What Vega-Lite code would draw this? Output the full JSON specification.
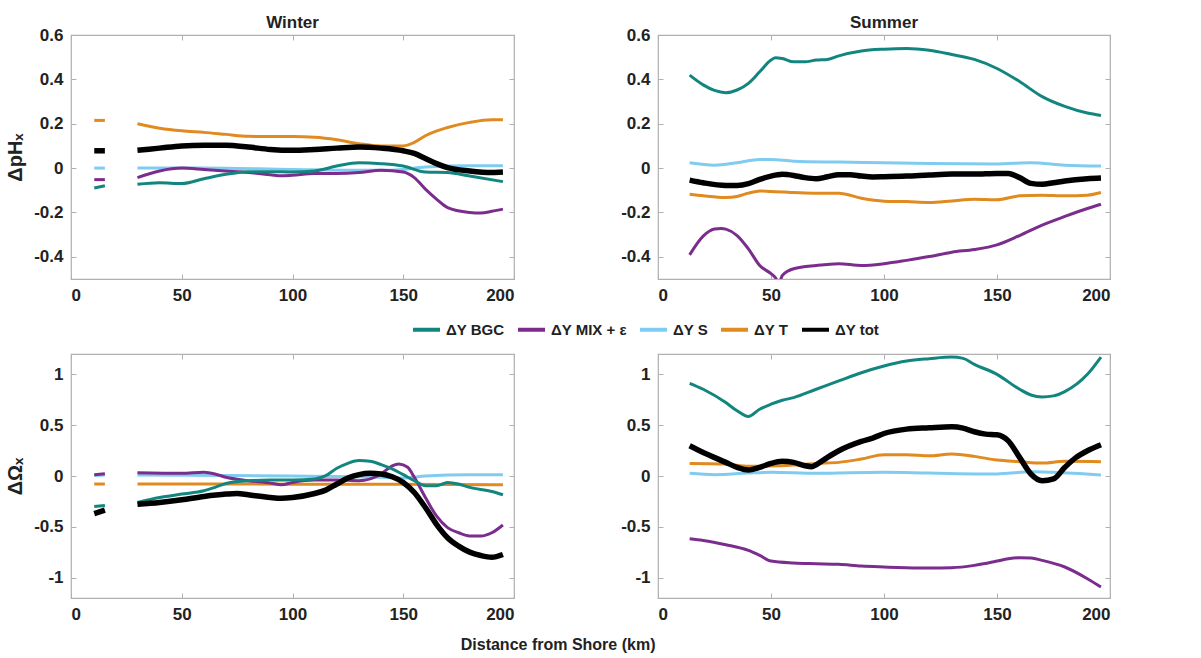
{
  "$schema": "https://vega.github.io/schema/vega-lite/v6.json",
  "padding": {"left": 5, "top": 13, "right": 5, "bottom": 5},
  "background": "white",
  "config": {
    "font": "Liberation Sans",
    "view": {"stroke": "#b0b0b0", "strokeWidth": 1.2},
    "axis": {
      "labelFont": "Liberation Sans", "labelFontWeight": "bold", "labelFontSize": 17, "labelColor": "#222",
      "titleFont": "Liberation Sans", "titleFontWeight": "bold", "titleFontSize": 20, "titleColor": "#222",
      "domain": false, "grid": false, "tickColor": "#b0b0b0", "tickSize": 5, "tickWidth": 1
    },
    "title": {"font": "Liberation Sans", "fontWeight": "bold", "fontSize": 17, "color": "#222", "offset": -6},
    "legend": {"labelFont": "Liberation Sans", "labelFontWeight": "bold", "labelFontSize": 15, "labelColor": "#222"}
  },
  "title": {"text": "Distance from Shore (km)", "orient": "bottom", "anchor": "middle", "fontSize": 16, "offset": 14},
  "datasets": {
    "d": [
      {"p":"WpH","s":"ΔY T","g":0,"x":10.5,"y":0.215},{"p":"WpH","s":"ΔY T","g":0,"x":15.3,"y":0.215},
      {"p":"WpH","s":"ΔY tot","g":0,"x":10.5,"y":0.078},{"p":"WpH","s":"ΔY tot","g":0,"x":15.3,"y":0.078},
      {"p":"WpH","s":"ΔY S","g":0,"x":10.5,"y":0.0},{"p":"WpH","s":"ΔY S","g":0,"x":15.3,"y":0.0},
      {"p":"WpH","s":"ΔY MIX + ε","g":0,"x":10.5,"y":-0.052},{"p":"WpH","s":"ΔY MIX + ε","g":0,"x":15.3,"y":-0.052},
      {"p":"WpH","s":"ΔY BGC","g":0,"x":10.5,"y":-0.09},{"p":"WpH","s":"ΔY BGC","g":0,"x":15.3,"y":-0.08},

      {"p":"WpH","s":"ΔY T","g":1,"x":30,"y":0.2},{"p":"WpH","s":"ΔY T","g":1,"x":40,"y":0.18},{"p":"WpH","s":"ΔY T","g":1,"x":50,"y":0.168},{"p":"WpH","s":"ΔY T","g":1,"x":60,"y":0.161},{"p":"WpH","s":"ΔY T","g":1,"x":70,"y":0.152},{"p":"WpH","s":"ΔY T","g":1,"x":80,"y":0.143},{"p":"WpH","s":"ΔY T","g":1,"x":90,"y":0.142},{"p":"WpH","s":"ΔY T","g":1,"x":100,"y":0.142},{"p":"WpH","s":"ΔY T","g":1,"x":110,"y":0.139},{"p":"WpH","s":"ΔY T","g":1,"x":120,"y":0.128},{"p":"WpH","s":"ΔY T","g":1,"x":130,"y":0.11},{"p":"WpH","s":"ΔY T","g":1,"x":140,"y":0.1},{"p":"WpH","s":"ΔY T","g":1,"x":150,"y":0.1},{"p":"WpH","s":"ΔY T","g":1,"x":155,"y":0.116},{"p":"WpH","s":"ΔY T","g":1,"x":160,"y":0.146},{"p":"WpH","s":"ΔY T","g":1,"x":170,"y":0.183},{"p":"WpH","s":"ΔY T","g":1,"x":180,"y":0.206},{"p":"WpH","s":"ΔY T","g":1,"x":190,"y":0.218},{"p":"WpH","s":"ΔY T","g":1,"x":195,"y":0.218},

      {"p":"WpH","s":"ΔY tot","g":1,"x":30,"y":0.08},{"p":"WpH","s":"ΔY tot","g":1,"x":40,"y":0.09},{"p":"WpH","s":"ΔY tot","g":1,"x":50,"y":0.1},{"p":"WpH","s":"ΔY tot","g":1,"x":60,"y":0.103},{"p":"WpH","s":"ΔY tot","g":1,"x":70,"y":0.103},{"p":"WpH","s":"ΔY tot","g":1,"x":80,"y":0.095},{"p":"WpH","s":"ΔY tot","g":1,"x":90,"y":0.084},{"p":"WpH","s":"ΔY tot","g":1,"x":100,"y":0.08},{"p":"WpH","s":"ΔY tot","g":1,"x":110,"y":0.084},{"p":"WpH","s":"ΔY tot","g":1,"x":120,"y":0.09},{"p":"WpH","s":"ΔY tot","g":1,"x":130,"y":0.095},{"p":"WpH","s":"ΔY tot","g":1,"x":140,"y":0.09},{"p":"WpH","s":"ΔY tot","g":1,"x":150,"y":0.078},{"p":"WpH","s":"ΔY tot","g":1,"x":155,"y":0.066},{"p":"WpH","s":"ΔY tot","g":1,"x":160,"y":0.043},{"p":"WpH","s":"ΔY tot","g":1,"x":165,"y":0.02},{"p":"WpH","s":"ΔY tot","g":1,"x":170,"y":0.002},{"p":"WpH","s":"ΔY tot","g":1,"x":180,"y":-0.013},{"p":"WpH","s":"ΔY tot","g":1,"x":190,"y":-0.02},{"p":"WpH","s":"ΔY tot","g":1,"x":195,"y":-0.018},

      {"p":"WpH","s":"ΔY S","g":1,"x":30,"y":0.0},{"p":"WpH","s":"ΔY S","g":1,"x":60,"y":0.0},{"p":"WpH","s":"ΔY S","g":1,"x":100,"y":-0.006},{"p":"WpH","s":"ΔY S","g":1,"x":140,"y":-0.01},{"p":"WpH","s":"ΔY S","g":1,"x":150,"y":-0.006},{"p":"WpH","s":"ΔY S","g":1,"x":160,"y":0.005},{"p":"WpH","s":"ΔY S","g":1,"x":180,"y":0.01},{"p":"WpH","s":"ΔY S","g":1,"x":195,"y":0.01},

      {"p":"WpH","s":"ΔY MIX + ε","g":1,"x":30,"y":-0.043},{"p":"WpH","s":"ΔY MIX + ε","g":1,"x":40,"y":-0.013},{"p":"WpH","s":"ΔY MIX + ε","g":1,"x":50,"y":0.0},{"p":"WpH","s":"ΔY MIX + ε","g":1,"x":60,"y":-0.006},{"p":"WpH","s":"ΔY MIX + ε","g":1,"x":70,"y":-0.013},{"p":"WpH","s":"ΔY MIX + ε","g":1,"x":80,"y":-0.02},{"p":"WpH","s":"ΔY MIX + ε","g":1,"x":90,"y":-0.03},{"p":"WpH","s":"ΔY MIX + ε","g":1,"x":95,"y":-0.035},{"p":"WpH","s":"ΔY MIX + ε","g":1,"x":100,"y":-0.032},{"p":"WpH","s":"ΔY MIX + ε","g":1,"x":110,"y":-0.024},{"p":"WpH","s":"ΔY MIX + ε","g":1,"x":120,"y":-0.024},{"p":"WpH","s":"ΔY MIX + ε","g":1,"x":130,"y":-0.02},{"p":"WpH","s":"ΔY MIX + ε","g":1,"x":140,"y":-0.01},{"p":"WpH","s":"ΔY MIX + ε","g":1,"x":150,"y":-0.018},{"p":"WpH","s":"ΔY MIX + ε","g":1,"x":155,"y":-0.043},{"p":"WpH","s":"ΔY MIX + ε","g":1,"x":160,"y":-0.095},{"p":"WpH","s":"ΔY MIX + ε","g":1,"x":165,"y":-0.14},{"p":"WpH","s":"ΔY MIX + ε","g":1,"x":170,"y":-0.178},{"p":"WpH","s":"ΔY MIX + ε","g":1,"x":180,"y":-0.2},{"p":"WpH","s":"ΔY MIX + ε","g":1,"x":185,"y":-0.203},{"p":"WpH","s":"ΔY MIX + ε","g":1,"x":190,"y":-0.195},{"p":"WpH","s":"ΔY MIX + ε","g":1,"x":195,"y":-0.185},

      {"p":"WpH","s":"ΔY BGC","g":1,"x":30,"y":-0.073},{"p":"WpH","s":"ΔY BGC","g":1,"x":40,"y":-0.066},{"p":"WpH","s":"ΔY BGC","g":1,"x":50,"y":-0.07},{"p":"WpH","s":"ΔY BGC","g":1,"x":60,"y":-0.048},{"p":"WpH","s":"ΔY BGC","g":1,"x":70,"y":-0.028},{"p":"WpH","s":"ΔY BGC","g":1,"x":80,"y":-0.016},{"p":"WpH","s":"ΔY BGC","g":1,"x":90,"y":-0.016},{"p":"WpH","s":"ΔY BGC","g":1,"x":100,"y":-0.018},{"p":"WpH","s":"ΔY BGC","g":1,"x":110,"y":-0.013},{"p":"WpH","s":"ΔY BGC","g":1,"x":120,"y":0.009},{"p":"WpH","s":"ΔY BGC","g":1,"x":130,"y":0.024},{"p":"WpH","s":"ΔY BGC","g":1,"x":140,"y":0.02},{"p":"WpH","s":"ΔY BGC","g":1,"x":150,"y":0.009},{"p":"WpH","s":"ΔY BGC","g":1,"x":160,"y":-0.018},{"p":"WpH","s":"ΔY BGC","g":1,"x":170,"y":-0.02},{"p":"WpH","s":"ΔY BGC","g":1,"x":180,"y":-0.036},{"p":"WpH","s":"ΔY BGC","g":1,"x":195,"y":-0.061},

      {"p":"SpH","s":"ΔY BGC","g":1,"x":14,"y":0.419},{"p":"SpH","s":"ΔY BGC","g":1,"x":20,"y":0.375},{"p":"SpH","s":"ΔY BGC","g":1,"x":25,"y":0.35},{"p":"SpH","s":"ΔY BGC","g":1,"x":30,"y":0.34},{"p":"SpH","s":"ΔY BGC","g":1,"x":35,"y":0.352},{"p":"SpH","s":"ΔY BGC","g":1,"x":40,"y":0.382},{"p":"SpH","s":"ΔY BGC","g":1,"x":45,"y":0.434},{"p":"SpH","s":"ΔY BGC","g":1,"x":50,"y":0.487},{"p":"SpH","s":"ΔY BGC","g":1,"x":52,"y":0.498},{"p":"SpH","s":"ΔY BGC","g":1,"x":55,"y":0.494},{"p":"SpH","s":"ΔY BGC","g":1,"x":60,"y":0.479},{"p":"SpH","s":"ΔY BGC","g":1,"x":65,"y":0.479},{"p":"SpH","s":"ΔY BGC","g":1,"x":70,"y":0.487},{"p":"SpH","s":"ΔY BGC","g":1,"x":75,"y":0.49},{"p":"SpH","s":"ΔY BGC","g":1,"x":80,"y":0.506},{"p":"SpH","s":"ΔY BGC","g":1,"x":90,"y":0.528},{"p":"SpH","s":"ΔY BGC","g":1,"x":100,"y":0.536},{"p":"SpH","s":"ΔY BGC","g":1,"x":110,"y":0.539},{"p":"SpH","s":"ΔY BGC","g":1,"x":120,"y":0.531},{"p":"SpH","s":"ΔY BGC","g":1,"x":130,"y":0.512},{"p":"SpH","s":"ΔY BGC","g":1,"x":140,"y":0.49},{"p":"SpH","s":"ΔY BGC","g":1,"x":150,"y":0.449},{"p":"SpH","s":"ΔY BGC","g":1,"x":160,"y":0.39},{"p":"SpH","s":"ΔY BGC","g":1,"x":170,"y":0.322},{"p":"SpH","s":"ΔY BGC","g":1,"x":180,"y":0.278},{"p":"SpH","s":"ΔY BGC","g":1,"x":190,"y":0.248},{"p":"SpH","s":"ΔY BGC","g":1,"x":196,"y":0.237},

      {"p":"SpH","s":"ΔY S","g":1,"x":14,"y":0.024},{"p":"SpH","s":"ΔY S","g":1,"x":25,"y":0.013},{"p":"SpH","s":"ΔY S","g":1,"x":35,"y":0.024},{"p":"SpH","s":"ΔY S","g":1,"x":45,"y":0.039},{"p":"SpH","s":"ΔY S","g":1,"x":50,"y":0.039},{"p":"SpH","s":"ΔY S","g":1,"x":60,"y":0.031},{"p":"SpH","s":"ΔY S","g":1,"x":80,"y":0.027},{"p":"SpH","s":"ΔY S","g":1,"x":100,"y":0.024},{"p":"SpH","s":"ΔY S","g":1,"x":120,"y":0.021},{"p":"SpH","s":"ΔY S","g":1,"x":150,"y":0.019},{"p":"SpH","s":"ΔY S","g":1,"x":165,"y":0.024},{"p":"SpH","s":"ΔY S","g":1,"x":180,"y":0.013},{"p":"SpH","s":"ΔY S","g":1,"x":196,"y":0.009},

      {"p":"SpH","s":"ΔY tot","g":1,"x":14,"y":-0.054},{"p":"SpH","s":"ΔY tot","g":1,"x":20,"y":-0.066},{"p":"SpH","s":"ΔY tot","g":1,"x":30,"y":-0.078},{"p":"SpH","s":"ΔY tot","g":1,"x":35,"y":-0.078},{"p":"SpH","s":"ΔY tot","g":1,"x":40,"y":-0.07},{"p":"SpH","s":"ΔY tot","g":1,"x":45,"y":-0.051},{"p":"SpH","s":"ΔY tot","g":1,"x":50,"y":-0.036},{"p":"SpH","s":"ΔY tot","g":1,"x":55,"y":-0.028},{"p":"SpH","s":"ΔY tot","g":1,"x":60,"y":-0.033},{"p":"SpH","s":"ΔY tot","g":1,"x":65,"y":-0.043},{"p":"SpH","s":"ΔY tot","g":1,"x":70,"y":-0.048},{"p":"SpH","s":"ΔY tot","g":1,"x":75,"y":-0.039},{"p":"SpH","s":"ΔY tot","g":1,"x":80,"y":-0.03},{"p":"SpH","s":"ΔY tot","g":1,"x":85,"y":-0.03},{"p":"SpH","s":"ΔY tot","g":1,"x":90,"y":-0.036},{"p":"SpH","s":"ΔY tot","g":1,"x":95,"y":-0.04},{"p":"SpH","s":"ΔY tot","g":1,"x":100,"y":-0.039},{"p":"SpH","s":"ΔY tot","g":1,"x":110,"y":-0.036},{"p":"SpH","s":"ΔY tot","g":1,"x":120,"y":-0.031},{"p":"SpH","s":"ΔY tot","g":1,"x":130,"y":-0.027},{"p":"SpH","s":"ΔY tot","g":1,"x":140,"y":-0.027},{"p":"SpH","s":"ΔY tot","g":1,"x":150,"y":-0.024},{"p":"SpH","s":"ΔY tot","g":1,"x":155,"y":-0.024},{"p":"SpH","s":"ΔY tot","g":1,"x":160,"y":-0.043},{"p":"SpH","s":"ΔY tot","g":1,"x":165,"y":-0.069},{"p":"SpH","s":"ΔY tot","g":1,"x":170,"y":-0.073},{"p":"SpH","s":"ΔY tot","g":1,"x":175,"y":-0.066},{"p":"SpH","s":"ΔY tot","g":1,"x":180,"y":-0.058},{"p":"SpH","s":"ΔY tot","g":1,"x":190,"y":-0.048},{"p":"SpH","s":"ΔY tot","g":1,"x":196,"y":-0.045},

      {"p":"SpH","s":"ΔY T","g":1,"x":14,"y":-0.118},{"p":"SpH","s":"ΔY T","g":1,"x":20,"y":-0.125},{"p":"SpH","s":"ΔY T","g":1,"x":30,"y":-0.133},{"p":"SpH","s":"ΔY T","g":1,"x":35,"y":-0.128},{"p":"SpH","s":"ΔY T","g":1,"x":40,"y":-0.113},{"p":"SpH","s":"ΔY T","g":1,"x":45,"y":-0.103},{"p":"SpH","s":"ΔY T","g":1,"x":50,"y":-0.106},{"p":"SpH","s":"ΔY T","g":1,"x":60,"y":-0.11},{"p":"SpH","s":"ΔY T","g":1,"x":70,"y":-0.113},{"p":"SpH","s":"ΔY T","g":1,"x":80,"y":-0.113},{"p":"SpH","s":"ΔY T","g":1,"x":90,"y":-0.136},{"p":"SpH","s":"ΔY T","g":1,"x":100,"y":-0.149},{"p":"SpH","s":"ΔY T","g":1,"x":110,"y":-0.151},{"p":"SpH","s":"ΔY T","g":1,"x":120,"y":-0.155},{"p":"SpH","s":"ΔY T","g":1,"x":130,"y":-0.148},{"p":"SpH","s":"ΔY T","g":1,"x":140,"y":-0.14},{"p":"SpH","s":"ΔY T","g":1,"x":150,"y":-0.143},{"p":"SpH","s":"ΔY T","g":1,"x":160,"y":-0.125},{"p":"SpH","s":"ΔY T","g":1,"x":170,"y":-0.122},{"p":"SpH","s":"ΔY T","g":1,"x":180,"y":-0.125},{"p":"SpH","s":"ΔY T","g":1,"x":190,"y":-0.122},{"p":"SpH","s":"ΔY T","g":1,"x":196,"y":-0.11},

      {"p":"SpH","s":"ΔY MIX + ε","g":1,"x":14,"y":-0.391},{"p":"SpH","s":"ΔY MIX + ε","g":1,"x":20,"y":-0.307},{"p":"SpH","s":"ΔY MIX + ε","g":1,"x":25,"y":-0.275},{"p":"SpH","s":"ΔY MIX + ε","g":1,"x":28,"y":-0.272},{"p":"SpH","s":"ΔY MIX + ε","g":1,"x":30,"y":-0.275},{"p":"SpH","s":"ΔY MIX + ε","g":1,"x":35,"y":-0.304},{"p":"SpH","s":"ΔY MIX + ε","g":1,"x":40,"y":-0.364},{"p":"SpH","s":"ΔY MIX + ε","g":1,"x":45,"y":-0.439},{"p":"SpH","s":"ΔY MIX + ε","g":1,"x":50,"y":-0.476},{"p":"SpH","s":"ΔY MIX + ε","g":1,"x":52,"y":-0.495},{"p":"SpH","s":"ΔY MIX + ε","g":1,"x":53.5,"y":-0.52},{"p":"SpH","s":"ΔY MIX + ε","g":1,"x":55,"y":-0.484},{"p":"SpH","s":"ΔY MIX + ε","g":1,"x":60,"y":-0.454},{"p":"SpH","s":"ΔY MIX + ε","g":1,"x":70,"y":-0.439},{"p":"SpH","s":"ΔY MIX + ε","g":1,"x":80,"y":-0.431},{"p":"SpH","s":"ΔY MIX + ε","g":1,"x":90,"y":-0.439},{"p":"SpH","s":"ΔY MIX + ε","g":1,"x":100,"y":-0.431},{"p":"SpH","s":"ΔY MIX + ε","g":1,"x":110,"y":-0.416},{"p":"SpH","s":"ΔY MIX + ε","g":1,"x":120,"y":-0.399},{"p":"SpH","s":"ΔY MIX + ε","g":1,"x":130,"y":-0.379},{"p":"SpH","s":"ΔY MIX + ε","g":1,"x":140,"y":-0.367},{"p":"SpH","s":"ΔY MIX + ε","g":1,"x":150,"y":-0.346},{"p":"SpH","s":"ΔY MIX + ε","g":1,"x":160,"y":-0.304},{"p":"SpH","s":"ΔY MIX + ε","g":1,"x":170,"y":-0.257},{"p":"SpH","s":"ΔY MIX + ε","g":1,"x":180,"y":-0.218},{"p":"SpH","s":"ΔY MIX + ε","g":1,"x":190,"y":-0.182},{"p":"SpH","s":"ΔY MIX + ε","g":1,"x":196,"y":-0.163},

      {"p":"WOm","s":"ΔY S","g":0,"x":10.5,"y":0.005},{"p":"WOm","s":"ΔY S","g":0,"x":15.3,"y":0.01},
      {"p":"WOm","s":"ΔY MIX + ε","g":0,"x":10.5,"y":0.012},{"p":"WOm","s":"ΔY MIX + ε","g":0,"x":15.3,"y":0.022},
      {"p":"WOm","s":"ΔY T","g":0,"x":10.5,"y":-0.079},{"p":"WOm","s":"ΔY T","g":0,"x":15.3,"y":-0.079},
      {"p":"WOm","s":"ΔY BGC","g":0,"x":10.5,"y":-0.3},{"p":"WOm","s":"ΔY BGC","g":0,"x":15.3,"y":-0.29},
      {"p":"WOm","s":"ΔY tot","g":0,"x":10.5,"y":-0.37},{"p":"WOm","s":"ΔY tot","g":0,"x":15.3,"y":-0.335},

      {"p":"WOm","s":"ΔY S","g":1,"x":30,"y":0.01},{"p":"WOm","s":"ΔY S","g":1,"x":70,"y":0.005},{"p":"WOm","s":"ΔY S","g":1,"x":100,"y":0.0},{"p":"WOm","s":"ΔY S","g":1,"x":120,"y":-0.005},{"p":"WOm","s":"ΔY S","g":1,"x":140,"y":-0.013},{"p":"WOm","s":"ΔY S","g":1,"x":150,"y":-0.02},{"p":"WOm","s":"ΔY S","g":1,"x":160,"y":0.0},{"p":"WOm","s":"ΔY S","g":1,"x":180,"y":0.013},{"p":"WOm","s":"ΔY S","g":1,"x":195,"y":0.013},

      {"p":"WOm","s":"ΔY T","g":1,"x":30,"y":-0.079},{"p":"WOm","s":"ΔY T","g":1,"x":100,"y":-0.08},{"p":"WOm","s":"ΔY T","g":1,"x":150,"y":-0.082},{"p":"WOm","s":"ΔY T","g":1,"x":195,"y":-0.086},

      {"p":"WOm","s":"ΔY MIX + ε","g":1,"x":30,"y":0.033},{"p":"WOm","s":"ΔY MIX + ε","g":1,"x":50,"y":0.026},{"p":"WOm","s":"ΔY MIX + ε","g":1,"x":60,"y":0.036},{"p":"WOm","s":"ΔY MIX + ε","g":1,"x":65,"y":0.02},{"p":"WOm","s":"ΔY MIX + ε","g":1,"x":70,"y":-0.013},{"p":"WOm","s":"ΔY MIX + ε","g":1,"x":80,"y":-0.046},{"p":"WOm","s":"ΔY MIX + ε","g":1,"x":90,"y":-0.07},{"p":"WOm","s":"ΔY MIX + ε","g":1,"x":95,"y":-0.086},{"p":"WOm","s":"ΔY MIX + ε","g":1,"x":100,"y":-0.063},{"p":"WOm","s":"ΔY MIX + ε","g":1,"x":110,"y":-0.04},{"p":"WOm","s":"ΔY MIX + ε","g":1,"x":120,"y":-0.04},{"p":"WOm","s":"ΔY MIX + ε","g":1,"x":130,"y":-0.046},{"p":"WOm","s":"ΔY MIX + ε","g":1,"x":140,"y":0.02},{"p":"WOm","s":"ΔY MIX + ε","g":1,"x":145,"y":0.1},{"p":"WOm","s":"ΔY MIX + ε","g":1,"x":148,"y":0.119},{"p":"WOm","s":"ΔY MIX + ε","g":1,"x":152,"y":0.086},{"p":"WOm","s":"ΔY MIX + ε","g":1,"x":155,"y":-0.013},{"p":"WOm","s":"ΔY MIX + ε","g":1,"x":160,"y":-0.211},{"p":"WOm","s":"ΔY MIX + ε","g":1,"x":165,"y":-0.393},{"p":"WOm","s":"ΔY MIX + ε","g":1,"x":170,"y":-0.508},{"p":"WOm","s":"ΔY MIX + ε","g":1,"x":175,"y":-0.558},{"p":"WOm","s":"ΔY MIX + ε","g":1,"x":180,"y":-0.59},{"p":"WOm","s":"ΔY MIX + ε","g":1,"x":185,"y":-0.59},{"p":"WOm","s":"ΔY MIX + ε","g":1,"x":190,"y":-0.558},{"p":"WOm","s":"ΔY MIX + ε","g":1,"x":195,"y":-0.482},

      {"p":"WOm","s":"ΔY BGC","g":1,"x":30,"y":-0.26},{"p":"WOm","s":"ΔY BGC","g":1,"x":40,"y":-0.211},{"p":"WOm","s":"ΔY BGC","g":1,"x":50,"y":-0.178},{"p":"WOm","s":"ΔY BGC","g":1,"x":60,"y":-0.145},{"p":"WOm","s":"ΔY BGC","g":1,"x":65,"y":-0.112},{"p":"WOm","s":"ΔY BGC","g":1,"x":70,"y":-0.073},{"p":"WOm","s":"ΔY BGC","g":1,"x":80,"y":-0.046},{"p":"WOm","s":"ΔY BGC","g":1,"x":90,"y":-0.04},{"p":"WOm","s":"ΔY BGC","g":1,"x":100,"y":-0.04},{"p":"WOm","s":"ΔY BGC","g":1,"x":110,"y":-0.03},{"p":"WOm","s":"ΔY BGC","g":1,"x":115,"y":0.003},{"p":"WOm","s":"ΔY BGC","g":1,"x":120,"y":0.076},{"p":"WOm","s":"ΔY BGC","g":1,"x":125,"y":0.125},{"p":"WOm","s":"ΔY BGC","g":1,"x":130,"y":0.152},{"p":"WOm","s":"ΔY BGC","g":1,"x":135,"y":0.145},{"p":"WOm","s":"ΔY BGC","g":1,"x":140,"y":0.112},{"p":"WOm","s":"ΔY BGC","g":1,"x":145,"y":0.069},{"p":"WOm","s":"ΔY BGC","g":1,"x":150,"y":0.013},{"p":"WOm","s":"ΔY BGC","g":1,"x":155,"y":-0.046},{"p":"WOm","s":"ΔY BGC","g":1,"x":160,"y":-0.096},{"p":"WOm","s":"ΔY BGC","g":1,"x":165,"y":-0.096},{"p":"WOm","s":"ΔY BGC","g":1,"x":170,"y":-0.063},{"p":"WOm","s":"ΔY BGC","g":1,"x":175,"y":-0.079},{"p":"WOm","s":"ΔY BGC","g":1,"x":180,"y":-0.112},{"p":"WOm","s":"ΔY BGC","g":1,"x":190,"y":-0.152},{"p":"WOm","s":"ΔY BGC","g":1,"x":195,"y":-0.185},

      {"p":"WOm","s":"ΔY tot","g":1,"x":30,"y":-0.277},{"p":"WOm","s":"ΔY tot","g":1,"x":40,"y":-0.26},{"p":"WOm","s":"ΔY tot","g":1,"x":50,"y":-0.234},{"p":"WOm","s":"ΔY tot","g":1,"x":60,"y":-0.201},{"p":"WOm","s":"ΔY tot","g":1,"x":70,"y":-0.178},{"p":"WOm","s":"ΔY tot","g":1,"x":75,"y":-0.172},{"p":"WOm","s":"ΔY tot","g":1,"x":80,"y":-0.185},{"p":"WOm","s":"ΔY tot","g":1,"x":90,"y":-0.211},{"p":"WOm","s":"ΔY tot","g":1,"x":95,"y":-0.218},{"p":"WOm","s":"ΔY tot","g":1,"x":100,"y":-0.211},{"p":"WOm","s":"ΔY tot","g":1,"x":110,"y":-0.172},{"p":"WOm","s":"ΔY tot","g":1,"x":115,"y":-0.139},{"p":"WOm","s":"ΔY tot","g":1,"x":120,"y":-0.079},{"p":"WOm","s":"ΔY tot","g":1,"x":125,"y":-0.02},{"p":"WOm","s":"ΔY tot","g":1,"x":130,"y":0.013},{"p":"WOm","s":"ΔY tot","g":1,"x":135,"y":0.026},{"p":"WOm","s":"ΔY tot","g":1,"x":140,"y":0.02},{"p":"WOm","s":"ΔY tot","g":1,"x":145,"y":-0.007},{"p":"WOm","s":"ΔY tot","g":1,"x":150,"y":-0.063},{"p":"WOm","s":"ΔY tot","g":1,"x":155,"y":-0.162},{"p":"WOm","s":"ΔY tot","g":1,"x":160,"y":-0.31},{"p":"WOm","s":"ΔY tot","g":1,"x":165,"y":-0.475},{"p":"WOm","s":"ΔY tot","g":1,"x":170,"y":-0.607},{"p":"WOm","s":"ΔY tot","g":1,"x":175,"y":-0.69},{"p":"WOm","s":"ΔY tot","g":1,"x":180,"y":-0.749},{"p":"WOm","s":"ΔY tot","g":1,"x":185,"y":-0.782},{"p":"WOm","s":"ΔY tot","g":1,"x":190,"y":-0.799},{"p":"WOm","s":"ΔY tot","g":1,"x":195,"y":-0.772},

      {"p":"SOm","s":"ΔY BGC","g":1,"x":14,"y":0.912},{"p":"SOm","s":"ΔY BGC","g":1,"x":20,"y":0.853},{"p":"SOm","s":"ΔY BGC","g":1,"x":30,"y":0.722},{"p":"SOm","s":"ΔY BGC","g":1,"x":35,"y":0.641},{"p":"SOm","s":"ΔY BGC","g":1,"x":40,"y":0.585},{"p":"SOm","s":"ΔY BGC","g":1,"x":45,"y":0.657},{"p":"SOm","s":"ΔY BGC","g":1,"x":50,"y":0.706},{"p":"SOm","s":"ΔY BGC","g":1,"x":55,"y":0.745},{"p":"SOm","s":"ΔY BGC","g":1,"x":60,"y":0.771},{"p":"SOm","s":"ΔY BGC","g":1,"x":70,"y":0.853},{"p":"SOm","s":"ΔY BGC","g":1,"x":80,"y":0.935},{"p":"SOm","s":"ΔY BGC","g":1,"x":90,"y":1.016},{"p":"SOm","s":"ΔY BGC","g":1,"x":100,"y":1.082},{"p":"SOm","s":"ΔY BGC","g":1,"x":110,"y":1.131},{"p":"SOm","s":"ΔY BGC","g":1,"x":120,"y":1.154},{"p":"SOm","s":"ΔY BGC","g":1,"x":130,"y":1.17},{"p":"SOm","s":"ΔY BGC","g":1,"x":135,"y":1.157},{"p":"SOm","s":"ΔY BGC","g":1,"x":140,"y":1.098},{"p":"SOm","s":"ΔY BGC","g":1,"x":150,"y":1.0},{"p":"SOm","s":"ΔY BGC","g":1,"x":160,"y":0.853},{"p":"SOm","s":"ΔY BGC","g":1,"x":165,"y":0.797},{"p":"SOm","s":"ΔY BGC","g":1,"x":170,"y":0.778},{"p":"SOm","s":"ΔY BGC","g":1,"x":175,"y":0.788},{"p":"SOm","s":"ΔY BGC","g":1,"x":180,"y":0.83},{"p":"SOm","s":"ΔY BGC","g":1,"x":190,"y":1.0},{"p":"SOm","s":"ΔY BGC","g":1,"x":196,"y":1.17},

      {"p":"SOm","s":"ΔY tot","g":1,"x":14,"y":0.297},{"p":"SOm","s":"ΔY tot","g":1,"x":20,"y":0.232},{"p":"SOm","s":"ΔY tot","g":1,"x":30,"y":0.134},{"p":"SOm","s":"ΔY tot","g":1,"x":35,"y":0.085},{"p":"SOm","s":"ΔY tot","g":1,"x":40,"y":0.059},{"p":"SOm","s":"ΔY tot","g":1,"x":45,"y":0.085},{"p":"SOm","s":"ΔY tot","g":1,"x":50,"y":0.124},{"p":"SOm","s":"ΔY tot","g":1,"x":55,"y":0.144},{"p":"SOm","s":"ΔY tot","g":1,"x":60,"y":0.134},{"p":"SOm","s":"ΔY tot","g":1,"x":65,"y":0.101},{"p":"SOm","s":"ΔY tot","g":1,"x":68,"y":0.092},{"p":"SOm","s":"ΔY tot","g":1,"x":70,"y":0.111},{"p":"SOm","s":"ΔY tot","g":1,"x":75,"y":0.183},{"p":"SOm","s":"ΔY tot","g":1,"x":80,"y":0.248},{"p":"SOm","s":"ΔY tot","g":1,"x":90,"y":0.34},{"p":"SOm","s":"ΔY tot","g":1,"x":95,"y":0.373},{"p":"SOm","s":"ΔY tot","g":1,"x":100,"y":0.418},{"p":"SOm","s":"ΔY tot","g":1,"x":110,"y":0.461},{"p":"SOm","s":"ΔY tot","g":1,"x":120,"y":0.474},{"p":"SOm","s":"ΔY tot","g":1,"x":130,"y":0.484},{"p":"SOm","s":"ΔY tot","g":1,"x":135,"y":0.471},{"p":"SOm","s":"ΔY tot","g":1,"x":140,"y":0.435},{"p":"SOm","s":"ΔY tot","g":1,"x":145,"y":0.412},{"p":"SOm","s":"ΔY tot","g":1,"x":150,"y":0.405},{"p":"SOm","s":"ΔY tot","g":1,"x":155,"y":0.346},{"p":"SOm","s":"ΔY tot","g":1,"x":160,"y":0.183},{"p":"SOm","s":"ΔY tot","g":1,"x":165,"y":0.02},{"p":"SOm","s":"ΔY tot","g":1,"x":170,"y":-0.046},{"p":"SOm","s":"ΔY tot","g":1,"x":175,"y":-0.029},{"p":"SOm","s":"ΔY tot","g":1,"x":180,"y":0.085},{"p":"SOm","s":"ΔY tot","g":1,"x":185,"y":0.183},{"p":"SOm","s":"ΔY tot","g":1,"x":190,"y":0.248},{"p":"SOm","s":"ΔY tot","g":1,"x":196,"y":0.307},

      {"p":"SOm","s":"ΔY T","g":1,"x":14,"y":0.124},{"p":"SOm","s":"ΔY T","g":1,"x":30,"y":0.118},{"p":"SOm","s":"ΔY T","g":1,"x":40,"y":0.095},{"p":"SOm","s":"ΔY T","g":1,"x":50,"y":0.098},{"p":"SOm","s":"ΔY T","g":1,"x":60,"y":0.108},{"p":"SOm","s":"ΔY T","g":1,"x":70,"y":0.124},{"p":"SOm","s":"ΔY T","g":1,"x":80,"y":0.134},{"p":"SOm","s":"ΔY T","g":1,"x":90,"y":0.167},{"p":"SOm","s":"ΔY T","g":1,"x":100,"y":0.209},{"p":"SOm","s":"ΔY T","g":1,"x":110,"y":0.209},{"p":"SOm","s":"ΔY T","g":1,"x":120,"y":0.199},{"p":"SOm","s":"ΔY T","g":1,"x":130,"y":0.216},{"p":"SOm","s":"ΔY T","g":1,"x":140,"y":0.193},{"p":"SOm","s":"ΔY T","g":1,"x":150,"y":0.157},{"p":"SOm","s":"ΔY T","g":1,"x":160,"y":0.141},{"p":"SOm","s":"ΔY T","g":1,"x":170,"y":0.127},{"p":"SOm","s":"ΔY T","g":1,"x":180,"y":0.144},{"p":"SOm","s":"ΔY T","g":1,"x":196,"y":0.141},

      {"p":"SOm","s":"ΔY S","g":1,"x":14,"y":0.026},{"p":"SOm","s":"ΔY S","g":1,"x":25,"y":0.013},{"p":"SOm","s":"ΔY S","g":1,"x":40,"y":0.029},{"p":"SOm","s":"ΔY S","g":1,"x":50,"y":0.036},{"p":"SOm","s":"ΔY S","g":1,"x":70,"y":0.026},{"p":"SOm","s":"ΔY S","g":1,"x":100,"y":0.036},{"p":"SOm","s":"ΔY S","g":1,"x":120,"y":0.029},{"p":"SOm","s":"ΔY S","g":1,"x":150,"y":0.02},{"p":"SOm","s":"ΔY S","g":1,"x":165,"y":0.042},{"p":"SOm","s":"ΔY S","g":1,"x":175,"y":0.036},{"p":"SOm","s":"ΔY S","g":1,"x":196,"y":0.01},

      {"p":"SOm","s":"ΔY MIX + ε","g":1,"x":14,"y":-0.618},{"p":"SOm","s":"ΔY MIX + ε","g":1,"x":20,"y":-0.634},{"p":"SOm","s":"ΔY MIX + ε","g":1,"x":30,"y":-0.676},{"p":"SOm","s":"ΔY MIX + ε","g":1,"x":40,"y":-0.732},{"p":"SOm","s":"ΔY MIX + ε","g":1,"x":45,"y":-0.781},{"p":"SOm","s":"ΔY MIX + ε","g":1,"x":50,"y":-0.837},{"p":"SOm","s":"ΔY MIX + ε","g":1,"x":60,"y":-0.856},{"p":"SOm","s":"ΔY MIX + ε","g":1,"x":70,"y":-0.863},{"p":"SOm","s":"ΔY MIX + ε","g":1,"x":80,"y":-0.869},{"p":"SOm","s":"ΔY MIX + ε","g":1,"x":90,"y":-0.886},{"p":"SOm","s":"ΔY MIX + ε","g":1,"x":100,"y":-0.895},{"p":"SOm","s":"ΔY MIX + ε","g":1,"x":110,"y":-0.902},{"p":"SOm","s":"ΔY MIX + ε","g":1,"x":120,"y":-0.905},{"p":"SOm","s":"ΔY MIX + ε","g":1,"x":130,"y":-0.902},{"p":"SOm","s":"ΔY MIX + ε","g":1,"x":140,"y":-0.879},{"p":"SOm","s":"ΔY MIX + ε","g":1,"x":150,"y":-0.837},{"p":"SOm","s":"ΔY MIX + ε","g":1,"x":155,"y":-0.814},{"p":"SOm","s":"ΔY MIX + ε","g":1,"x":160,"y":-0.804},{"p":"SOm","s":"ΔY MIX + ε","g":1,"x":165,"y":-0.807},{"p":"SOm","s":"ΔY MIX + ε","g":1,"x":170,"y":-0.83},{"p":"SOm","s":"ΔY MIX + ε","g":1,"x":180,"y":-0.895},{"p":"SOm","s":"ΔY MIX + ε","g":1,"x":190,"y":-1.01},{"p":"SOm","s":"ΔY MIX + ε","g":1,"x":196,"y":-1.092}
    ]
  },
  "data": {"name": "d"},
  "spacing": 48,
  "vconcat": [
    {
      "spacing": 104,
      "hconcat": [
        {
          "title": "Winter", "width": 443, "height": 244,
          "transform": [{"filter": "datum.p === 'WpH'"}],
          "layer": [
            {"transform": [{"filter": "datum.s !== 'ΔY tot'"}],
             "mark": {"type": "line", "strokeWidth": 3, "interpolate": "monotone", "clip": true},
             "encoding": {
               "x": {"field": "x", "type": "quantitative", "scale": {"domain": [0, 200], "nice": false}, "axis": {"values": [0, 50, 100, 150, 200], "title": null, "orient": "bottom", "tickSize": -5, "labelPadding": 13}},
               "y": {"field": "y", "type": "quantitative", "scale": {"domain": [-0.5, 0.6], "nice": false, "zero": false}, "axis": {"values": [-0.4, -0.2, 0, 0.2, 0.4, 0.6], "format": ".1~f", "labelExpr": "replace(datum.label, '\u2212', '-')", "title": "ΔpHₓ", "orient": "left", "tickSize": -5, "labelPadding": 13, "titlePadding": 8}},
               "color": {"field": "s", "type": "nominal", "scale": {"domain": ["ΔY BGC", "ΔY MIX + ε", "ΔY S", "ΔY T", "ΔY tot"], "range": ["#13857f", "#7b2d8e", "#80ccf0", "#e08a1f", "#000000"]}, "legend": {"title": null, "orient": "none", "direction": "horizontal", "legendX": 340, "legendY": 279, "symbolType": "stroke", "symbolSize": 729, "symbolStrokeWidth": 4, "columnPadding": 5, "labelOffset": 4}},
               "detail": {"field": "g"}
             }},
            {"transform": [{"filter": "datum.s === 'ΔY tot'"}],
             "mark": {"type": "line", "strokeWidth": 5.5, "interpolate": "monotone", "clip": true},
             "encoding": {
               "x": {"field": "x", "type": "quantitative", "axis": {"values": [0, 50, 100, 150, 200], "orient": "top", "labels": false, "title": null, "tickSize": -5}},
               "y": {"field": "y", "type": "quantitative", "axis": {"values": [-0.4, -0.2, 0, 0.2, 0.4, 0.6], "orient": "right", "labels": false, "title": null, "tickSize": -5}},
               "color": {"field": "s", "type": "nominal"},
               "detail": {"field": "g"}
             }}
          ],
          "resolve": {"axis": {"x": "independent", "y": "independent"}}
        },
        {
          "title": "Summer", "width": 452, "height": 244,
          "transform": [{"filter": "datum.p === 'SpH'"}],
          "layer": [
            {"transform": [{"filter": "datum.s !== 'ΔY tot'"}],
             "mark": {"type": "line", "strokeWidth": 3, "interpolate": "monotone", "clip": true},
             "encoding": {
               "x": {"field": "x", "type": "quantitative", "scale": {"domain": [0, 200], "nice": false}, "axis": {"values": [0, 50, 100, 150, 200], "title": null, "orient": "bottom", "tickSize": -5, "labelPadding": 13}},
               "y": {"field": "y", "type": "quantitative", "scale": {"domain": [-0.5, 0.6], "nice": false, "zero": false}, "axis": {"values": [-0.4, -0.2, 0, 0.2, 0.4, 0.6], "format": ".1~f", "labelExpr": "replace(datum.label, '\u2212', '-')", "title": null, "orient": "left", "tickSize": -5, "labelPadding": 13}},
               "color": {"field": "s", "type": "nominal"},
               "detail": {"field": "g"}
             }},
            {"transform": [{"filter": "datum.s === 'ΔY tot'"}],
             "mark": {"type": "line", "strokeWidth": 5.5, "interpolate": "monotone", "clip": true},
             "encoding": {
               "x": {"field": "x", "type": "quantitative", "axis": {"values": [0, 50, 100, 150, 200], "orient": "top", "labels": false, "title": null, "tickSize": -5}},
               "y": {"field": "y", "type": "quantitative", "axis": {"values": [-0.4, -0.2, 0, 0.2, 0.4, 0.6], "orient": "right", "labels": false, "title": null, "tickSize": -5}},
               "color": {"field": "s", "type": "nominal"},
               "detail": {"field": "g"}
             }}
          ],
          "resolve": {"axis": {"x": "independent", "y": "independent"}}
        }
      ]
    },
    {
      "spacing": 104,
      "hconcat": [
        {
          "width": 443, "height": 244,
          "transform": [{"filter": "datum.p === 'WOm'"}],
          "layer": [
            {"transform": [{"filter": "datum.s !== 'ΔY tot'"}],
             "mark": {"type": "line", "strokeWidth": 3, "interpolate": "monotone", "clip": true},
             "encoding": {
               "x": {"field": "x", "type": "quantitative", "scale": {"domain": [0, 200], "nice": false}, "axis": {"values": [0, 50, 100, 150, 200], "title": null, "orient": "bottom", "tickSize": -5, "labelPadding": 13}},
               "y": {"field": "y", "type": "quantitative", "scale": {"domain": [-1.2, 1.2], "nice": false, "zero": false}, "axis": {"values": [-1, -0.5, 0, 0.5, 1], "format": ".1~f", "labelExpr": "replace(datum.label, '\u2212', '-')", "title": "ΔΩₓ", "orient": "left", "tickSize": -5, "labelPadding": 13, "titlePadding": 8}},
               "color": {"field": "s", "type": "nominal"},
               "detail": {"field": "g"}
             }},
            {"transform": [{"filter": "datum.s === 'ΔY tot'"}],
             "mark": {"type": "line", "strokeWidth": 5.5, "interpolate": "monotone", "clip": true},
             "encoding": {
               "x": {"field": "x", "type": "quantitative", "axis": {"values": [0, 50, 100, 150, 200], "orient": "top", "labels": false, "title": null, "tickSize": -5}},
               "y": {"field": "y", "type": "quantitative", "axis": {"values": [-1, -0.5, 0, 0.5, 1], "orient": "right", "labels": false, "title": null, "tickSize": -5}},
               "color": {"field": "s", "type": "nominal"},
               "detail": {"field": "g"}
             }}
          ],
          "resolve": {"axis": {"x": "independent", "y": "independent"}}
        },
        {
          "width": 452, "height": 244,
          "transform": [{"filter": "datum.p === 'SOm'"}],
          "layer": [
            {"transform": [{"filter": "datum.s !== 'ΔY tot'"}],
             "mark": {"type": "line", "strokeWidth": 3, "interpolate": "monotone", "clip": true},
             "encoding": {
               "x": {"field": "x", "type": "quantitative", "scale": {"domain": [0, 200], "nice": false}, "axis": {"values": [0, 50, 100, 150, 200], "title": null, "orient": "bottom", "tickSize": -5, "labelPadding": 13}},
               "y": {"field": "y", "type": "quantitative", "scale": {"domain": [-1.2, 1.2], "nice": false, "zero": false}, "axis": {"values": [-1, -0.5, 0, 0.5, 1], "format": ".1~f", "labelExpr": "replace(datum.label, '\u2212', '-')", "title": null, "orient": "left", "tickSize": -5, "labelPadding": 13}},
               "color": {"field": "s", "type": "nominal"},
               "detail": {"field": "g"}
             }},
            {"transform": [{"filter": "datum.s === 'ΔY tot'"}],
             "mark": {"type": "line", "strokeWidth": 5.5, "interpolate": "monotone", "clip": true},
             "encoding": {
               "x": {"field": "x", "type": "quantitative", "axis": {"values": [0, 50, 100, 150, 200], "orient": "top", "labels": false, "title": null, "tickSize": -5}},
               "y": {"field": "y", "type": "quantitative", "axis": {"values": [-1, -0.5, 0, 0.5, 1], "orient": "right", "labels": false, "title": null, "tickSize": -5}},
               "color": {"field": "s", "type": "nominal"},
               "detail": {"field": "g"}
             }}
          ],
          "resolve": {"axis": {"x": "independent", "y": "independent"}}
        }
      ]
    }
  ],
  "resolve": {"scale": {"color": "shared"}}
}
